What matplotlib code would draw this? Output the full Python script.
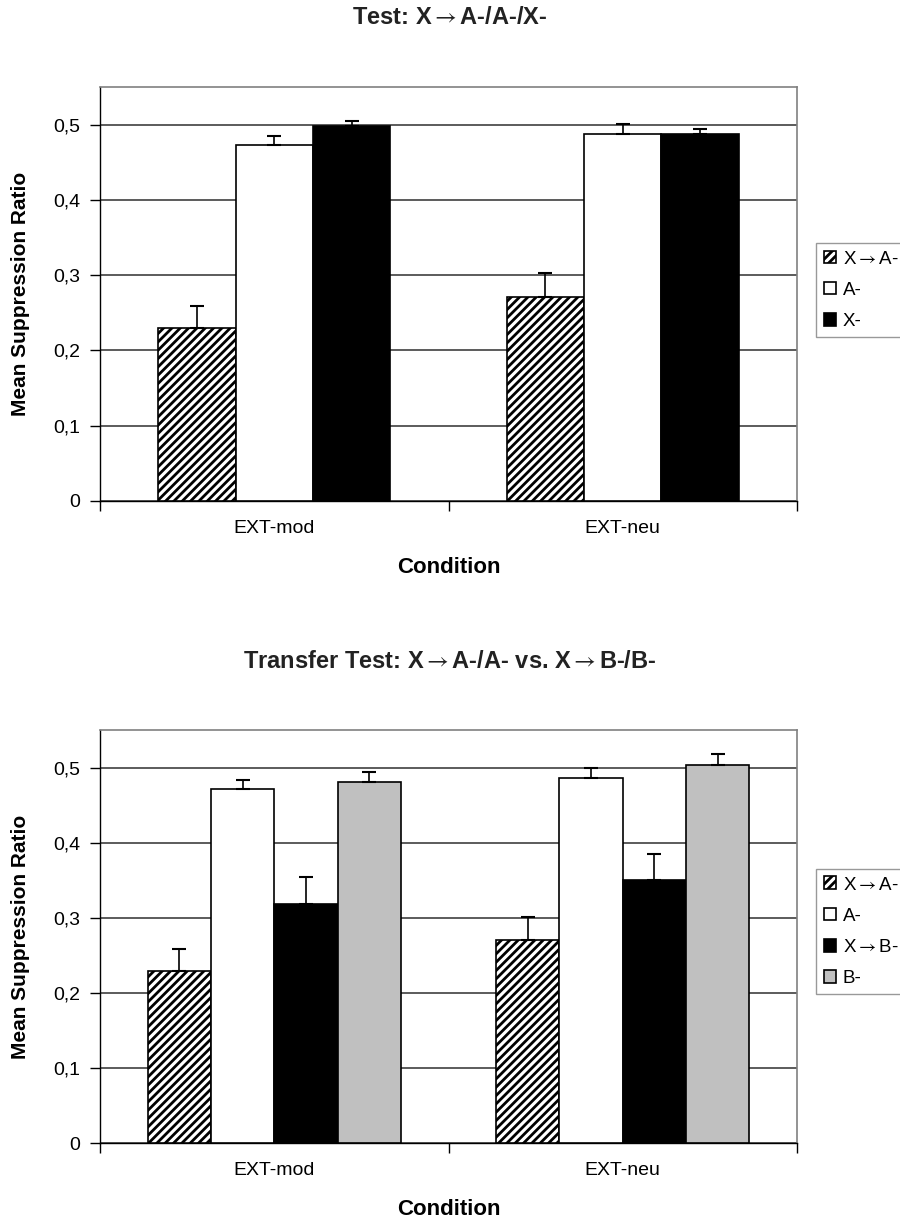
import numpy as np
import matplotlib
matplotlib.use("Agg")
import matplotlib.pyplot as plt

plt.rcParams['font.family'] = ['Liberation Sans', 'DejaVu Sans']
plt.rcParams['mathtext.fontset'] = 'stixsans'
plt.rcParams['hatch.linewidth'] = 2.0

ARROW = r"${\rightarrow}$"

# data
conditions = ["EXT-mod", "EXT-neu"]

top_labels = ["X→A-", "A-", "X-"]
top_means = [[0.230, 0.473, 0.498],   # EXT-mod
             [0.271, 0.487, 0.487]]   # EXT-neu
top_errs = [[0.029, 0.012, 0.007],
            [0.032, 0.014, 0.007]]

bot_labels = ["X→A-", "A-", "X→B-", "B-"]
bot_means = [[0.229, 0.472, 0.318, 0.481],
             [0.271, 0.486, 0.350, 0.504]]
bot_errs = [[0.029, 0.011, 0.036, 0.013],
            [0.030, 0.013, 0.035, 0.014]]

yticks = [0, 0.1, 0.2, 0.3, 0.4, 0.5]
ytick_labels = ["0", "0,1", "0,2", "0,3", "0,4", "0,5"]

# look of each series
styles = {
    "X→A-": dict(color="white", hatch="////"),
    "A-": dict(color="white", hatch=None),
    "X-": dict(color="black", hatch=None),
    "X→B-": dict(color="black", hatch=None),
    "B-": dict(color="#c0c0c0", hatch=None),
}


def arrowed(s):
    return s.replace("→", ARROW)


def draw_panel(ax, labels, means, errs):
    means = np.array(means)
    errs = np.array(errs)
    n = len(labels)
    group_w = n / (n + 1.5)   # excel gap width 150%
    w = group_w / n
    x = np.arange(len(conditions))
    handles = []
    for i, lab in enumerate(labels):
        pos = x - group_w / 2 + w * (i + 0.5)
        st = styles[lab]
        b = ax.bar(pos, means[:, i], w, color=st["color"], hatch=st["hatch"],
                   edgecolor="black", linewidth=1.2, zorder=3)
        ax.errorbar(pos, means[:, i], yerr=[np.zeros(len(x)), errs[:, i]],
                    fmt="none", ecolor="black", elinewidth=1.2, capsize=5,
                    capthick=1.5, zorder=4)
        handles.append(b)

    ax.set_xlim(-0.5, 1.5)
    ax.set_ylim(0, 0.55)
    ax.set_yticks(yticks)
    ax.set_yticklabels(ytick_labels, fontsize=14)
    ax.set_xticks(x)
    ax.set_xticklabels(conditions, fontsize=14)
    ax.set_xticks([-0.5, 0.5, 1.5], minor=True)
    ax.tick_params(axis="x", which="major", length=0, pad=14)
    ax.tick_params(axis="x", which="minor", length=7, width=1, direction="out")
    ax.tick_params(axis="y", length=7, width=1, direction="out", pad=7)
    ax.yaxis.grid(True, color="#404040", linewidth=1.2, zorder=0)
    ax.set_axisbelow(True)
    for side in ["top", "right"]:
        ax.spines[side].set_color("#808080")
        ax.spines[side].set_linewidth(1.2)
    for side in ["left", "bottom"]:
        ax.spines[side].set_color("black")
        ax.spines[side].set_linewidth(1.0)
    ax.set_ylabel("Mean Suppression Ratio", fontsize=15, fontweight="bold")
    ax.set_xlabel("Condition", fontsize=16, fontweight="bold", va="top")
    ax.yaxis.set_label_coords(-0.101, 0.5)
    ax.xaxis.set_label_coords(0.5, -0.136)
    return handles


def add_legend(fig, handles, labels, top):
    leg = fig.legend(handles=handles, labels=[arrowed(s) for s in labels],
                     loc="upper left", bbox_to_anchor=(816 / 900, top),
                     borderaxespad=0, fontsize=13.5, frameon=True,
                     fancybox=False, edgecolor="#808080", handlelength=0.68,
                     handleheight=0.68, handletextpad=0.35, labelspacing=0.75,
                     borderpad=0.4)
    leg.get_frame().set_linewidth(1.0)
    return leg


fig = plt.figure(figsize=(9, 12.26), dpi=100)

ax1 = fig.add_axes([100 / 900, 1 - 501 / 1226, 697 / 900, 414 / 1226])
h1 = draw_panel(ax1, top_labels, top_means, top_errs)
fig.text(0.5, 1 - 18 / 1226, arrowed("Test: X→A-/A-/X-"), ha="center", va="center",
         fontsize=17, fontweight="bold", color="#222222")
add_legend(fig, h1, top_labels, 1 - 243 / 1226)

ax2 = fig.add_axes([100 / 900, 1 - 1143 / 1226, 697 / 900, 413 / 1226])
h2 = draw_panel(ax2, bot_labels, bot_means, bot_errs)
fig.text(0.5, 1 - 661 / 1226, arrowed("Transfer Test: X→A-/A- vs. X→B-/B-"),
         ha="center", va="center", fontsize=17, fontweight="bold", color="#222222")
add_legend(fig, h2, bot_labels, 1 - 869 / 1226)

fig.savefig("out.png", dpi=100)
